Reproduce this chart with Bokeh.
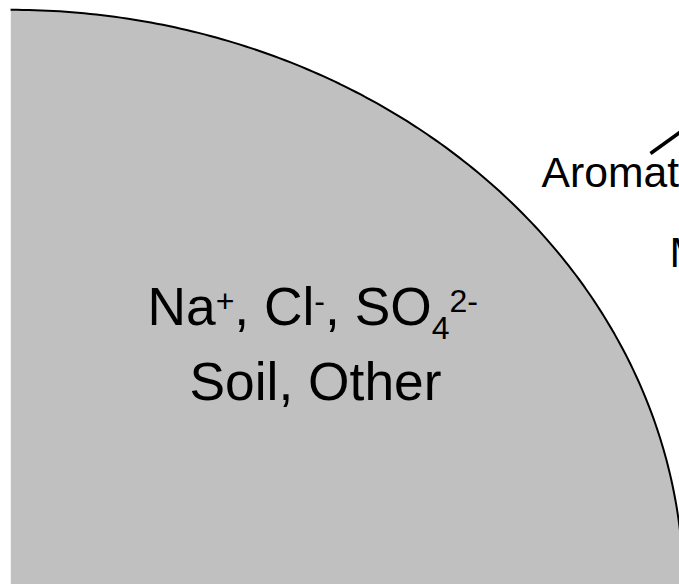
import numpy as np
from bokeh.plotting import figure
from bokeh.models import Range1d, ColumnDataSource
from bokeh.core.properties import value
from bokeh.embed import file_html
from bokeh.resources import INLINE

# ---------------- data ----------------
slice_names = ["Na+, Cl-, SO4 2-, Soil, Other", "Organics"]
slice_values = [58, 42]
slice_colors = ["#C0C0C0", "#FFFFFF"]
first_slice_start_deg = 90.0           # pie starts at 12 o'clock and runs clockwise

# inner label of the grey slice: (text, role) pieces, role: main / sup / sub
inner_line1 = [("Na", "main"), ("+", "sup"), (", Cl", "main"), ("-", "sup"),
               (", SO", "main"), ("4", "sub"), ("2-", "sup")]
inner_line2 = "Soil, Other"
outer_labels = ["Aromatics", "Monoterpenes"]

# ---------------- layout helpers ----------------
CX, CY = 10.0, 589.3               # pie centre in page pixels
SX, SY = 673.0, 580.0              # pixels per unit radius (pie drawn stretched)
BASE_FIX = 0.395                   # svg text baseline correction (em)
def d(ix, iy):
    return (ix - CX) / SX, (CY - iy) / SY

W = 679; H = 584
p = figure(width=W, height=H, output_backend="svg", toolbar_location=None,
           x_axis_type=None, y_axis_type=None,
           x_range=Range1d((10 - CX) / SX, (679 - CX) / SX),
           y_range=Range1d((CY - 584) / SY, (CY - 0) / SY),
           min_border=0, min_border_left=10)
p.outline_line_color = None
p.grid.visible = False
p.background_fill_color = "white"
p.border_fill_color = "white"

# ---------------- pie (unit radius in data space) ----------------
vals = np.array(slice_values, dtype=float)
frac = np.cumsum(vals) / vals.sum()
frac0 = np.concatenate([[0.0], frac[:-1]])
a0 = np.deg2rad(first_slice_start_deg)
starts = a0 - frac0 * 2 * np.pi
ends = a0 - frac * 2 * np.pi
px, py, ax, ay = [], [], [], []
for s0, e0 in zip(starts, ends):
    t = np.linspace(s0, e0, 400)
    px.append(np.concatenate([[0.0], np.cos(t), [0.0]]))
    py.append(np.concatenate([[0.0], np.sin(t), [0.0]]))
    ax.append(np.cos(t)); ay.append(np.sin(t))
p.patches(xs=px, ys=py, fill_color=slice_colors, line_color=None)
p.multi_line(xs=ax, ys=ay, line_color="black", line_width=2)

# ---------------- inner label ----------------
ADV = {'N': 722, 'a': 556, '+': 584, ',': 278, ' ': 278, 'C': 722, 'l': 222,
       '-': 333, 'S': 667, 'O': 778, '4': 556, '2': 556}
MAIN = 53.33
SCRIPT = 32.0
RAISE = {"main": 0.0, "sup": -14.0, "sub": 13.0}
x0, base1 = 147.0, 327.0
xs, ys, ts, fs = [], [], [], []
cur = x0
for txt, role in inner_line1:
    size = MAIN if role == "main" else SCRIPT
    dx, dy = d(cur, base1 + RAISE[role] - BASE_FIX * size)
    xs.append(dx); ys.append(dy); ts.append(txt); fs.append(f"{size}px")
    cur += sum(ADV[c] for c in txt) / 1000.0 * size
seg_src = ColumnDataSource(dict(x=xs, y=ys, text=ts, size=fs))
p.text(x="x", y="y", text="text", text_font_size="size", source=seg_src,
       text_font=value("Liberation Sans"), text_color="black",
       text_align="left", text_baseline="alphabetic")

lx, ly = d(315.0, 402.0 - BASE_FIX * MAIN)
p.text(x=[lx], y=[ly], text=[inner_line2], text_font=value("Liberation Sans"),
       text_font_size="53.33px", text_color="black", text_align="center",
       text_baseline="alphabetic")

# ---------------- outer labels (clipped at the right edge) ----------------
OUT = 42.67
ox, oy = zip(d(541.0, 188.0 - BASE_FIX * OUT), d(669.0, 268.0 - BASE_FIX * OUT))
p.text(x=list(ox), y=list(oy), text=outer_labels, text_font=value("Liberation Sans"),
       text_font_size=f"{OUT}px", text_color="black", text_align="left",
       text_baseline="alphabetic")
lsx, lsy = d(650.0, 153.0)
lex, ley = d(700.0, 117.0)
p.segment(x0=[lsx], y0=[lsy], x1=[lex], y1=[ley], line_color="black", line_width=3.5)

open("out.html", "w").write(file_html(p, INLINE))
